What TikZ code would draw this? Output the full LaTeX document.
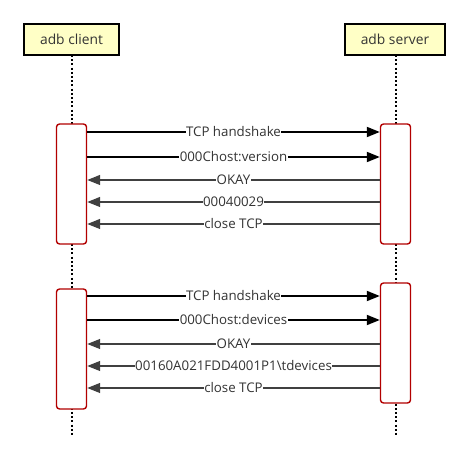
\documentclass[tikz,border=0pt]{standalone}
\usepackage{fontspec}
\setmainfont{Open Sans}
\usetikzlibrary{arrows.meta,positioning}
\definecolor{hdrfill}{HTML}{FFFFC6}
\definecolor{actred}{HTML}{B20000}
\definecolor{txtgray}{HTML}{333333}
\definecolor{retgray}{HTML}{404040}
\tikzset{
  header/.style={draw=black,line width=1.8pt,fill=hdrfill,minimum width=95pt,minimum height=31pt,inner sep=0pt,font=\fontsize{13.8}{15}\selectfont,text=txtgray},
  actbox/.style={draw=actred,line width=1.4pt,fill=white,rounded corners=3pt,minimum width=30pt,inner sep=0pt},
  lifeline/.style={line width=2pt,dash pattern=on 2pt off 2.2pt,black},
  callmsg/.style={line width=1.8pt,black,-{Triangle[length=13pt,width=10pt]}},
  retmsg/.style={line width=1.3pt,retgray,-{Triangle[length=13pt,width=10pt]}},
  msglabel/.style={fill=white,inner sep=0.5pt,text=txtgray,font=\fontsize{13.3}{14}\selectfont}
}
\begin{document}
\begin{tikzpicture}[x=1pt,y=-1pt]
\useasboundingbox (0,0) rectangle (469,465);
% lifelines
\coordinate (cl0) at (71.5,55);
\coordinate (cl1) at (71.5,437);
\coordinate (sl0) at (395.5,55);
\coordinate (sl1) at (395.5,437);
\draw[lifeline] (cl0) -- (cl1);
\draw[lifeline] (sl0) -- (sl1);
% headers
\node[header] (client) at (71.5,39.5) {adb client};
\node[header,minimum width=100pt] (server) at (395,39.5) {adb server};
% activation boxes
\node[actbox,minimum height=120pt] (ca) at (71.5,184) {};
\node[actbox,minimum height=120pt] (sa) at (395.5,184) {};
\node[actbox,minimum height=120pt] (cb) at (71.5,349) {};
\node[actbox,minimum height=120pt] (sb) at (395.5,343) {};
% group 1
\draw[callmsg] (ca.east |- 0,132) -- node[msglabel]{TCP handshake} (sa.west |- 0,132);
\draw[callmsg] (ca.east |- 0,157) -- node[msglabel]{000Chost:version} (sa.west |- 0,157);
\draw[retmsg] (sa.west |- 0,180) -- node[msglabel]{OKAY} (ca.east |- 0,180);
\draw[retmsg] (sa.west |- 0,202) -- node[msglabel]{00040029} (ca.east |- 0,202);
\draw[retmsg] (sa.west |- 0,224) -- node[msglabel]{close TCP} (ca.east |- 0,224);
% group 2
\draw[callmsg] (cb.east |- 0,296) -- node[msglabel]{TCP handshake} (sb.west |- 0,296);
\draw[callmsg] (cb.east |- 0,320) -- node[msglabel]{000Chost:devices} (sb.west |- 0,320);
\draw[retmsg] (sb.west |- 0,344) -- node[msglabel]{OKAY} (cb.east |- 0,344);
\draw[retmsg] (sb.west |- 0,366) -- node[msglabel]{00160A021FDD4001P1\textbackslash tdevices} (cb.east |- 0,366);
\draw[retmsg] (sb.west |- 0,388) -- node[msglabel]{close TCP} (cb.east |- 0,388);
\end{tikzpicture}
\end{document}
